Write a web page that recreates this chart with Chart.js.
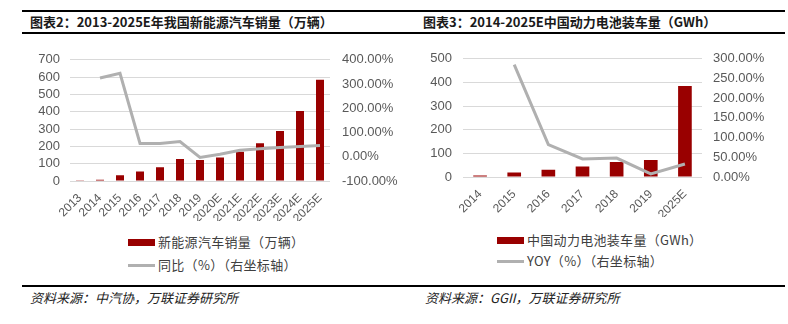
<!DOCTYPE html>
<html>
<head>
<meta charset="utf-8">
<script src="https://cdn.jsdelivr.net/npm/chart.js@4"></script>
<style>
  body { margin: 0; background: #fff; }
  #page { position: relative; width: 788px; height: 324px; overflow: hidden; font-family: "Noto Sans CJK SC", sans-serif; }
  .rule { position: absolute; left: 22px; width: 763px; height: 2px; background: #000; }
  .title { position: absolute; top: 13px; font-size: 13px; font-weight: bold; color: #1a1a1a; white-space: nowrap; line-height: 18px; }
  .box { position: absolute; }
  .leg { position: absolute; font-size: 13px; color: #404040; white-space: nowrap; line-height: 16px; letter-spacing: 0.3px; }
  .sw { position: absolute; }
  .src { position: absolute; top: 289px; font-size: 13px; font-style: italic; color: #222; white-space: nowrap; line-height: 18px; }
</style>
</head>
<body>
<div id="page">
  <div class="rule" style="top:10px"></div>
  <div class="rule" style="top:32px"></div>
  <div class="title" style="left:30px">图表2：2013-2025E年我国新能源汽车销量（万辆）</div>
  <div class="title" style="left:423px">图表3：2014-2025E中国动力电池装车量（GWh）</div>

  <div class="box" style="left:0;top:40px;width:400px;height:185px"><canvas id="c1"></canvas></div>
  <div class="box" style="left:400px;top:40px;width:388px;height:181px"><canvas id="c2"></canvas></div>

  <div class="sw" style="left:128px;top:239px;width:27px;height:7px;background:#990000"></div>
  <div class="leg" style="left:158px;top:234px">新能源汽车销量（万辆）</div>
  <div class="sw" style="left:128px;top:264px;width:27px;height:3px;background:#b0b0b0"></div>
  <div class="leg" style="left:158px;top:257px">同比（%）（右坐标轴）</div>

  <div class="sw" style="left:497px;top:237px;width:27px;height:7px;background:#990000"></div>
  <div class="leg" style="left:527px;top:232px">中国动力电池装车量（GWh）</div>
  <div class="sw" style="left:497px;top:260px;width:27px;height:3px;background:#b0b0b0"></div>
  <div class="leg" style="left:527px;top:253px">YOY（%）（右坐标轴）</div>

  <div class="rule" style="top:285px"></div>
  <div class="src" style="left:30px">资料来源：中汽协，万联证券研究所</div>
  <div class="src" style="left:425px">资料来源：GGII，万联证券研究所</div>
</div>
<script>
// chart 2: new energy vehicle sales
const nevYears = ['2013', '2014', '2015', '2016', '2017', '2018', '2019', '2020E', '2021E', '2022E', '2023E', '2024E', '2025E'];
const nevSales = [1.8, 7.5, 33, 55, 80, 127, 121, 136, 169, 218, 289, 405, 585];
const nevYoy = [null, 325, 344, 55, 55, 63, -3, 10, 27, 33, 38, 42, 46];

// chart 3: power battery installations
const batYears = ['2014', '2015', '2016', '2017', '2018', '2019', '2025E'];
const batInstalled = [6, 19, 31, 44, 63, 72, 385];
const batYoy = [null, 285, 82, 46, 48, 8, 33];

const RED = '#990000';
const GREY = '#b0b0b0';
const TICK = '#595959';
const tickFont = { family: '"Liberation Sans", Arial, sans-serif', size: 13 };

function makeChart(id, labels, bars, yoy, opt) {
    return new Chart(document.getElementById(id), {
        data: {
            labels: labels,
            datasets: [
                {
                    type: 'line', data: yoy, yAxisID: 'y1', order: 0,
                    borderColor: GREY, borderWidth: 3, pointRadius: 0, tension: 0
                },
                {
                    type: 'bar', data: bars, yAxisID: 'y', order: 1,
                    backgroundColor: RED, barPercentage: 0.4, categoryPercentage: 1
                }
            ]
        },
        options: {
            responsive: true,
            maintainAspectRatio: false,
            animation: false,
            layout: { padding: { top: opt.top, bottom: 4, left: 0, right: 0 } },
            plugins: { legend: { display: false }, tooltip: { enabled: false } },
            scales: {
                x: {
                    grid: { display: false },
                    border: { display: false },
                    ticks: { minRotation: 45, maxRotation: 45, color: TICK, font: { family: tickFont.family, size: 12 }, padding: 2, autoSkip: false },
                    afterFit(s) { s.height = 40; }
                },
                y: {
                    position: 'left',
                    min: opt.yMin, max: opt.yMax,
                    ticks: { stepSize: 100, color: TICK, font: tickFont, padding: opt.padL, autoSkip: false },
                    grid: { color: '#d9d9d9', drawTicks: false },
                    border: { display: false },
                    afterFit(s) { s.width = opt.wL; }
                },
                y1: {
                    position: 'right',
                    min: opt.rMin, max: opt.rMax,
                    ticks: {
                        stepSize: opt.rStep, color: TICK, font: tickFont, padding: opt.padR, autoSkip: false,
                        callback: (v) => v.toFixed(2) + '%'
                    },
                    grid: { drawOnChartArea: false, drawTicks: false },
                    border: { display: false },
                    afterFit(s) { s.width = opt.wR; }
                }
            }
        }
    });
}

makeChart('c1', nevYears, nevSales, nevYoy,
    { top: 12, yMin: 0, yMax: 700, rMin: -100, rMax: 400, rStep: 100, wL: 70, wR: 70, padL: 10, padR: 12 });
makeChart('c2', batYears, batInstalled, batYoy,
    { top: 16, yMin: 0, yMax: 500, rMin: 0, rMax: 300, rStep: 50, wL: 63, wR: 86, padL: 11, padR: 11 });
</script>
</body>
</html>
